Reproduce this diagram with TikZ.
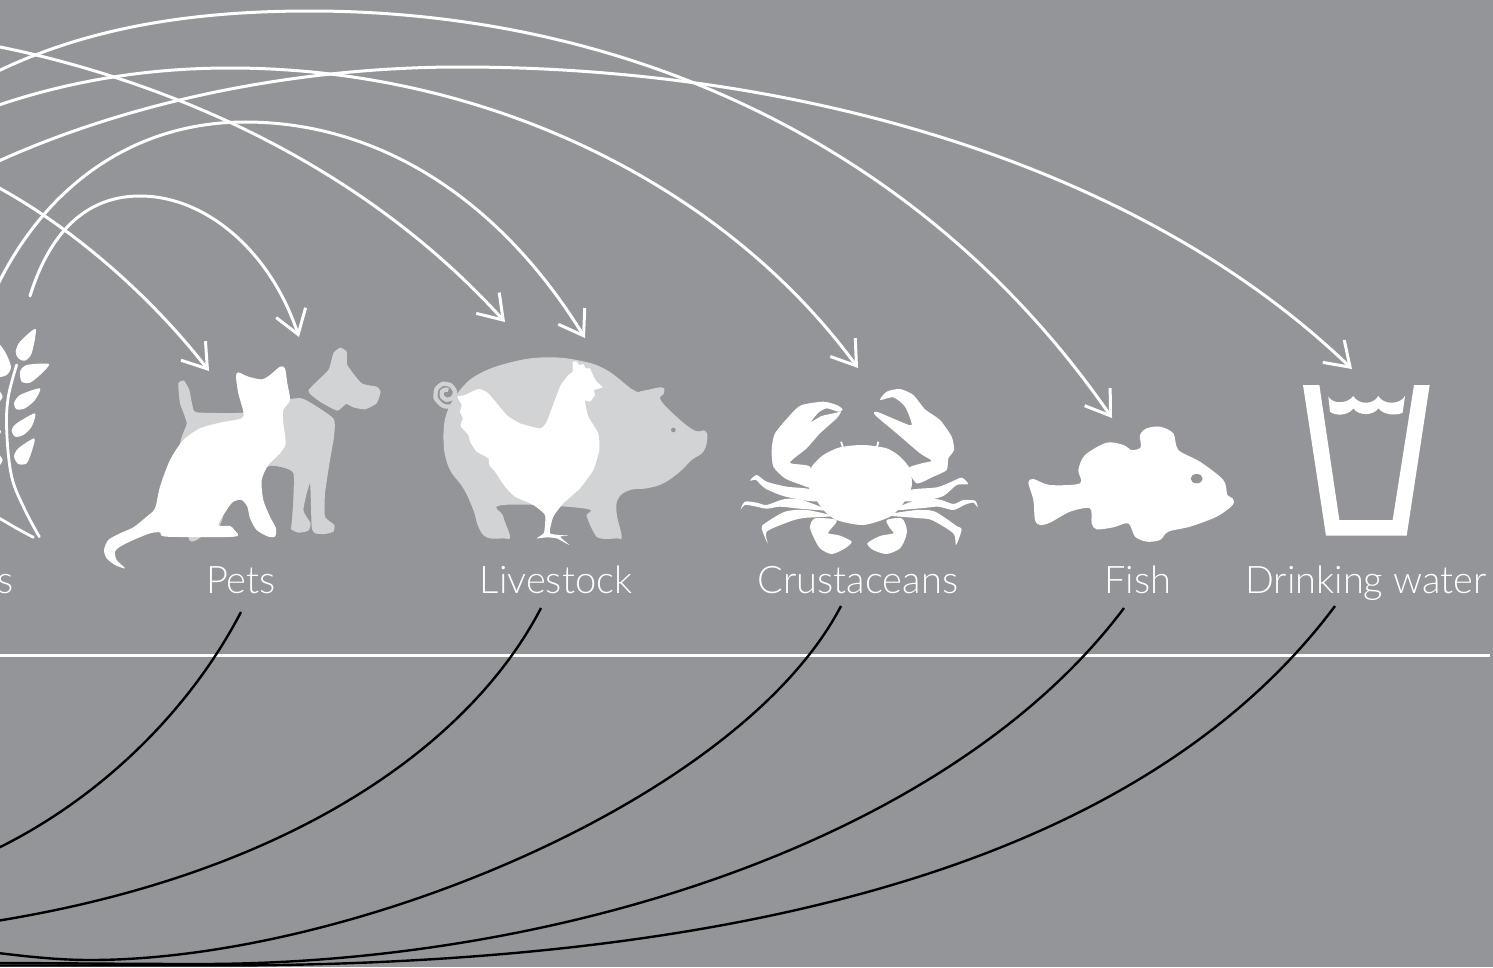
\documentclass[tikz,border=0pt]{standalone}
\usepackage{fontspec}
\setmainfont[UprightFont=* Light]{Lato}
\usetikzlibrary{arrows.meta,positioning}
\definecolor{slate}{HTML}{939598}
\definecolor{pale}{HTML}{D1D3D4}

\begin{document}
\begin{tikzpicture}[x=1pt,y=-1pt,
  wire/.style={draw=white,line width=3pt},
  tipped/.style={wire,-{Straight Barb[length=23pt,width=31pt,line width=3pt]},line cap=round},
  back/.style={draw=black,line width=2.4pt},
  group/.style={font=\fontsize{38}{40}\selectfont,text=white,inner sep=0pt,text height=28pt,text depth=18pt,anchor=south},
  icon/.style={scale=1/3},
  sm/.style={smooth cycle,tension=.45}]
\fill[slate] (0,0) rectangle (1493,967);
\clip (0,0) rectangle (1493,967);
\node[group] (crops) at (6,612) {s};
\node[group] (pets) at (241,612) {Pets};
\node[group] (livestock) at (556,612) {Livestock};
\node[group] (crustaceans) at (858,612) {Crustaceans};
\node[group] (fish) at (1138,612) {Fish};
\node[group] (water) at (1366,612) {Drinking water};
% upper arcs
\coordinate (a1) at (30,296);
\coordinate (a2) at (-8,297);
\coordinate (a3) at (-10,45);
\coordinate (a4) at (-10,183);
\coordinate (a5) at (-10,75);
\coordinate (a6) at (-10,108);
\coordinate (a7) at (-10,165);
\coordinate (petsin1) at (299,337);
\coordinate (petsin2) at (209,371);
\coordinate (stockin1) at (585,338);
\coordinate (stockin2) at (505,322);
\coordinate (crabin) at (858,368);
\coordinate (fishin) at (1112,418);
\coordinate (waterin) at (1352,369);
\draw[tipped] (a1) .. controls (52,225) and (92,196) .. (140,196) .. controls (205,196) and (270,250) .. (petsin1);
\draw[tipped] (a2) .. controls (40,190) and (130,122) .. (245,122) .. controls (380,122) and (500,200) .. (stockin1);
\draw[tipped] (a3) .. controls (120,70) and (340,140) .. (stockin2);
\draw[tipped] (a4) .. controls (70,225) and (150,295) .. (petsin2);
\draw[tipped] (a5) .. controls (90,25) and (200,11) .. (310,11) .. controls (620,11) and (920,140) .. (fishin);
\draw[tipped] (a6) .. controls (70,80) and (150,68) .. (230,68) .. controls (480,68) and (720,180) .. (crabin);
\draw[tipped] (a7) .. controls (130,100) and (300,67) .. (460,67) .. controls (800,67) and (1140,165) .. (waterin);
% rule
\coordinate (rulea) at (0,655.5);
\coordinate (ruleb) at (1490,655.5);
\draw[wire,line width=3.6pt] (rulea) -- (ruleb);
% lower arcs
\coordinate (b1) at (-10,852);
\coordinate (b2) at (-10,922);
\coordinate (b3) at (-10,952);
\coordinate (b4) at (-10,963);
\coordinate (b5) at (-10,965.5);
\draw[back] (pets.south) .. controls (190,710) and (100,800) .. (b1);
\draw[back] ([xshift=-15pt,yshift=4pt]livestock.south) .. controls (470,745) and (290,875) .. (b2);
\draw[back] ([xshift=-17pt,yshift=6pt]crustaceans.south) .. controls (740,800) and (350,960) .. (90,960) .. controls (60,960) and (30,957) .. (b3);
\draw[back] ([xshift=-14pt,yshift=4pt]fish.south) .. controls (950,840) and (560,964) .. (200,964) .. controls (120,964) and (50,963) .. (b4);
\draw[back] ([xshift=-31pt,yshift=6pt]water.south) .. controls (1130,880) and (700,965) .. (220,965.5) .. controls (120,965.5) and (50,965.5) .. (b5);
% wheat
\begin{scope}[shift={(0,320)},icon]
\draw[white,line width=2.8pt,line cap=round] plot[smooth,tension=.6] coordinates {(50,135) (25,230) (20,330) (35,470) (75,570) (118,650)};
\draw[white,line width=2.8pt,line cap=round] (-10,590) -- (50,625) -- (100,652);
\fill[white] plot[sm] coordinates {(107,27) (60,65) (47,95) (55,115) (75,122) (95,100)};
\fill[white] plot[sm] coordinates {(147,132) (80,135) (60,155) (65,185) (90,188) (120,165)};
\fill[white] plot[sm] coordinates {(120,205) (60,225) (42,250) (50,268) (75,265) (105,240)};
\fill[white] plot[sm] coordinates {(105,280) (50,310) (35,330) (45,350) (70,345) (95,320)};
\fill[white] plot[sm] coordinates {(103,355) (55,385) (42,410) (55,432) (80,430) (95,395)};
\fill[white] plot[sm] coordinates {(-10,70) (15,95) (33,140) (20,165) (-10,165)};
\fill[white] plot[sm] coordinates {(-10,205) (8,230) (-10,250)};
\fill[white] plot[sm] coordinates {(-10,320) (3,335) (-10,350)};
\fill[white] plot[sm] coordinates {(-10,400) (8,420) (-10,445)};
\end{scope}
% dog and cat
\begin{scope}[shift={(0,320)},icon]
\fill[pale] plot[smooth cycle,tension=.3] coordinates {(535,190) (552,182) (568,210) (577,255) (590,277) (730,278) (800,250) (905,235) (1000,295) (1002,350) (990,420) (975,520) (975,590) (1003,615) (1000,635) (975,642) (945,640) (935,620) (930,490) (910,570) (932,610) (925,632) (895,638) (870,625) (865,590) (875,460) (810,438) (700,500) (660,615) (605,650) (585,662) (565,650) (540,380) (560,310) (540,250)};
\fill[pale] plot[smooth cycle,tension=.3] coordinates {(925,212) (985,150) (1000,100) (1020,83) (1040,95) (1042,135) (1085,190) (1130,200) (1142,215) (1130,250) (1095,268) (1060,262) (1038,252) (1012,272) (960,245)};
\fill[slate] plot[smooth cycle,tension=.3] coordinates {(785,480) (790,540) (810,590) (870,640) (880,460) (810,438)};
\fill[white] plot[smooth cycle,tension=.45] coordinates {(375,745) (345,735) (320,715) (312,690) (325,660) (360,640) (400,622) (440,590) (465,565) (480,500) (510,420) (550,360) (600,325) (660,308) (725,295) (730,275) (715,220) (708,170) (715,157) (745,170) (785,178) (810,165) (840,140) (855,145) (862,190) (870,240) (850,270) (850,310) (857,370) (840,400) (805,435) (785,480) (790,540) (810,590) (828,625) (825,650) (805,650) (770,630) (750,595) (742,560) (725,540) (700,545) (680,570) (655,615) (690,618) (703,630) (703,650) (500,650) (480,637) (450,640) (400,660) (360,680) (345,695) (350,720)};
\end{scope}
% pig and hen
\begin{scope}[shift={(420,340)},icon]
\draw[pale,line width=4.2pt] plot[smooth,tension=1] coordinates {(110,185) (85,200) (55,185) (47,160) (58,138) (80,132) (100,145) (103,165) (88,178) (72,175) (65,162) (72,150) (85,150)};
\fill[pale] plot[smooth cycle,tension=.7] coordinates {(70,290) (80,220) (120,150) (180,100) (280,65) (380,52) (480,62) (560,90) (640,150) (670,152) (725,142) (732,160) (722,180) (775,235) (825,272) (855,272) (862,295) (850,335) (815,360) (780,395) (730,430) (680,445) (630,450) (595,475) (590,520) (605,590) (590,595) (540,595) (520,575) (500,530) (490,505) (250,495) (250,530) (270,590) (250,595) (200,592) (175,560) (160,510) (130,445) (90,390) (72,330)};
\fill[slate] (760,270) circle (7);
\fill[white] plot[smooth cycle,tension=.3] coordinates {(112,170) (135,165) (175,147) (205,160) (260,225) (300,250) (360,265) (380,245) (420,140) (445,105) (458,95) (458,65) (470,65) (478,75) (490,72) (497,85) (510,85) (520,108) (530,125) (548,142) (522,150) (525,165) (510,185) (495,182) (505,230) (535,280) (538,330) (520,390) (480,445) (430,490) (400,530) (390,580) (445,587) (420,590) (448,615) (410,595) (380,592) (350,595) (372,578) (375,525) (340,495) (285,470) (255,440) (225,395) (208,375) (205,355) (170,335) (150,305) (145,285) (122,258) (128,235) (120,215) (125,195)};
\end{scope}
% crab
\begin{scope}[shift={(730,370)},icon]
\fill[white] plot[sm] coordinates {(245,290) (280,255) (330,232) (400,225) (470,235) (510,260) (540,297) (545,350) (520,400) (480,440) (400,465) (320,450) (280,420) (240,360) (232,330)};
\draw[white,line width=1.8pt] (333,215) -- (340,235) (445,215) -- (440,235);
\fill[white] plot[smooth cycle,tension=.4] coordinates {(180,278) (240,290) (240,350) (215,345) (165,325) (130,290) (125,240) (135,190) (185,130) (215,105) (280,95) (320,105) (338,118) (325,125) (290,115) (265,128) (243,156) (275,138) (320,128) (333,125) (320,145) (270,190) (230,235)};
\fill[white] plot[smooth cycle,tension=.4] coordinates {(450,90) (470,65) (510,57) (550,75) (585,118) (630,150) (665,200) (672,240) (655,265) (650,300) (610,320) (560,340) (535,295) (575,280) (605,272) (570,250) (500,190) (435,135) (440,125) (500,150) (545,165) (525,110) (490,82)};
\fill[white] plot[sm] coordinates {(60,332) (80,315) (110,335) (170,350) (240,358) (270,392) (230,392) (160,378) (105,355) (78,330)};
\fill[white] plot[sm] coordinates {(714,342) (695,323) (665,335) (620,352) (540,360) (510,392) (580,392) (640,378) (680,345)};
\fill[white] plot[sm] coordinates {(32,418) (45,395) (80,398) (110,405) (160,388) (210,388) (290,420) (210,416) (150,410) (110,416) (70,408) (45,405)};
\fill[white] plot[sm] coordinates {(743,412) (735,392) (700,390) (670,402) (625,388) (560,390) (490,420) (580,414) (625,410) (670,420) (705,404) (730,398)};
\fill[white] plot[sm] coordinates {(113,520) (95,475) (105,460) (165,425) (230,420) (305,438) (220,444) (175,456) (110,485)};
\fill[white] plot[sm] coordinates {(678,525) (695,478) (680,468) (615,425) (560,420) (470,435) (560,444) (605,450) (670,490)};
\fill[white] plot[sm] coordinates {(240,470) (255,445) (320,450) (300,480) (295,490) (330,497) (365,515) (345,535) (305,552) (270,535) (250,500)};
\fill[white] plot[sm] coordinates {(530,475) (515,445) (470,450) (480,475) (490,490) (450,498) (412,520) (430,540) (470,552) (510,535) (528,500)};
\end{scope}
% fish and glass
\begin{scope}[shift={(1010,370)},icon]
\fill[white] plot[smooth cycle,tension=.5] coordinates {(55,338) (70,327) (120,345) (210,340) (205,300) (225,255) (290,218) (340,225) (365,240) (392,232) (390,195) (410,175) (450,170) (490,190) (505,240) (570,275) (640,330) (652,375) (668,385) (668,405) (620,440) (540,470) (475,485) (450,510) (410,515) (375,500) (355,460) (310,472) (260,478) (245,460) (240,415) (180,425) (120,458) (90,465) (75,450) (70,390)};
\fill[slate] (560,326) ellipse (18 and 14);
\fill[white] (879,45) -- (928,45) -- (988,450) -- (1148,450) -- (1212,45) -- (1259,45) -- (1190,497) -- (948,497) -- cycle;
\fill[white] (955,80) .. controls (970,105) and (1015,100) .. (1030,78) .. controls (1045,105) and (1090,105) .. (1105,78) .. controls (1120,105) and (1170,105) .. (1185,78) -- (1178,128) .. controls (1160,138) and (1120,135) .. (1105,115) .. controls (1090,138) and (1045,138) .. (1030,115) .. controls (1015,138) and (975,138) .. (960,125) -- cycle;
\end{scope}
\end{tikzpicture}
\end{document}
